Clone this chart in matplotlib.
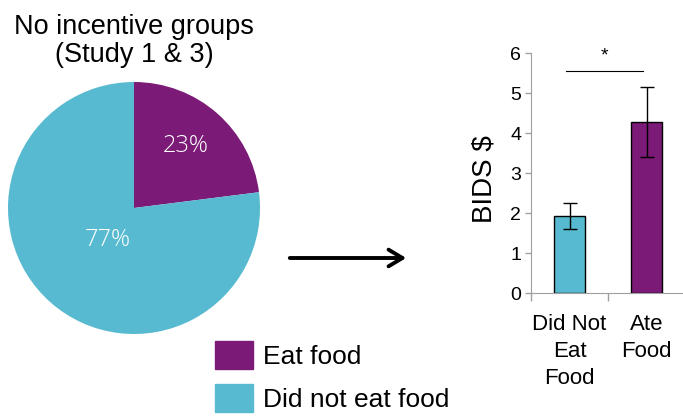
import matplotlib
matplotlib.use("Agg")
import matplotlib.pyplot as plt
from matplotlib.patches import Patch, FancyArrowPatch

plt.rcParams['font.family'] = ['Liberation Sans', 'DejaVu Sans']

# Data
pie_labels = ["Eat food", "Did not eat food"]
pie_values = [23, 77]
bar_categories = ["Did Not\nEat\nFood", "Ate\nFood"]
bar_values = [1.94, 4.28]
err_low = [1.62, 3.40]
err_high = [2.25, 5.15]
yticks = [0, 1, 2, 3, 4, 5, 6]

PURPLE = "#7B1A77"
CYAN = "#57BAD0"

W, H = 683, 417
fig = plt.figure(figsize=(W / 100, H / 100), dpi=100)

def box(l, t, r, b):
    return [l / W, 1 - b / H, (r - l) / W, (b - t) / H]

# Pie
axp = fig.add_axes(box(8, 82, 260, 334))
wedges, texts = axp.pie(pie_values, colors=[PURPLE, CYAN], startangle=90,
                        counterclock=False, radius=1,
                        labels=[f"{v}%" for v in pie_values], labeldistance=0.55,
                        textprops=dict(color="white", fontsize=17,
                                       family=['Open Sans', 'Liberation Sans'],
                                       fontweight='light'))
# label placement as in the reference
texts[0].set_position((0.41, 0.49))
texts[1].set_position((-0.21, -0.25))
for t in texts:
    t.set_ha("center")
    t.set_va("center")
axp.set_xlim(-1, 1)
axp.set_ylim(-1, 1)
axp.axis("off")

fig.text(134 / W, 1 - 41 / H, "No incentive groups\n(Study 1 & 3)", ha="center",
         va="center", fontsize=19.5, linespacing=1.15)

# Arrow
fig.add_artist(FancyArrowPatch(
    (287 / W, 1 - 258 / H), (409 / W, 1 - 258 / H), transform=fig.transFigure,
    arrowstyle="->,head_length=10,head_width=6", lw=2.8, color="black"))

# Legend
handles = [Patch(facecolor=PURPLE, edgecolor=PURPLE), Patch(facecolor=CYAN, edgecolor=CYAN)]
fig.legend(handles, pie_labels, loc="upper left", bbox_to_anchor=(215 / W, 1 - 341 / H),
           frameon=False, fontsize=19, handlelength=1.44, handleheight=1.27,
           handletextpad=0.38, labelspacing=0.55, borderaxespad=0, borderpad=0)

# Bar chart
axb = fig.add_axes(box(531, 53.3, 685, 293.3))
x = [0, 1]
yerr = [[v - lo for v, lo in zip(bar_values, err_low)],
        [hi - v for v, hi in zip(bar_values, err_high)]]
axb.bar(x, bar_values, width=0.41, color=[CYAN, PURPLE], edgecolor="black", lw=1,
        yerr=yerr, capsize=5, error_kw=dict(elinewidth=1, capthick=1, ecolor="black"))
axb.set_xlim(-0.5, 1.5)
axb.set_ylim(0, 6)
axb.set_yticks(yticks)
axb.tick_params(axis="y", labelsize=14, length=4, color="#A0A0A0", width=1, pad=3)
axb.set_xticks([-0.5, 0.5, 1.5])
axb.set_xticklabels([])
axb.tick_params(axis="x", which="major", length=6, color="#A0A0A0", width=1)
axb.set_xticks(x, minor=True)
axb.set_xticklabels(bar_categories, minor=True, fontsize=16, linespacing=1.38)
axb.tick_params(axis="x", which="minor", length=0, pad=15)
for s in ["top", "right"]:
    axb.spines[s].set_visible(False)
for s in ["left", "bottom"]:
    axb.spines[s].set_color("#A0A0A0")
axb.set_ylabel("BIDS $", fontsize=20, labelpad=6)
axb.yaxis.set_label_coords(-0.215, 0.476)
axb.patch.set_alpha(0)

# significance
axb.plot([-0.04, 0.96], [5.55, 5.55], color="black", lw=0.8, clip_on=False)
axb.text(0.45, 5.72, "*", ha="center", va="bottom", fontsize=14)

fig.savefig("out.png", dpi=100)
